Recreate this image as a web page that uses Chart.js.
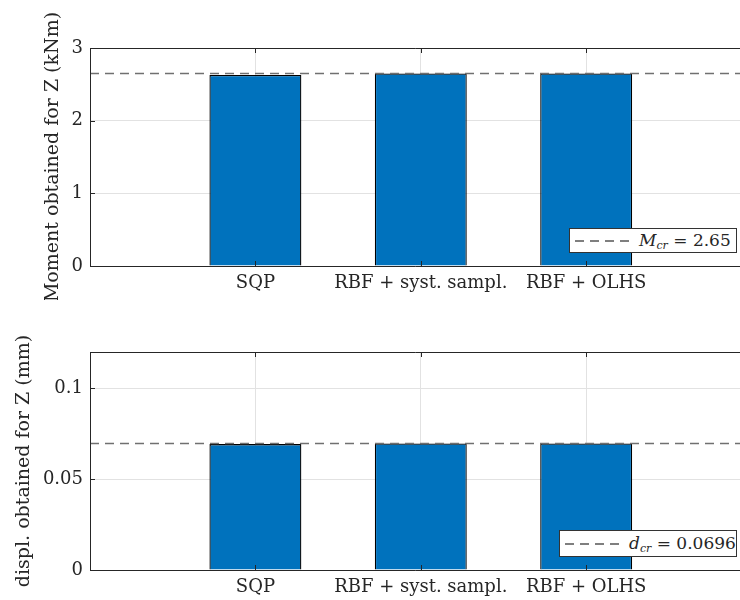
<!DOCTYPE html>
<html>
<head>
<meta charset="utf-8">
<script src="https://cdn.jsdelivr.net/npm/chart.js@4/dist/chart.umd.min.js"></script>
<style>
  body { margin: 0; background: #fff; }
  #wrap { position: relative; width: 740px; height: 600px; }
  canvas { position: absolute; left: 0; }
  #top { top: 0; }
  #bottom { top: 300px; }
  .leg {
    position: absolute; background: #fff; border: 1px solid #333;
    font-family: 'DejaVu Serif', serif; font-size: 17px; color: #262626;
    display: flex; align-items: center; box-sizing: border-box; white-space: nowrap;
  }
  .leg svg { margin: 0 8px 0 5px; }
  .leg i { font-style: italic; }
  .leg sub { font-size: 11px; font-style: italic; vertical-align: -3px; }
</style>
</head>
<body>
<div id="wrap">
  <canvas id="top" width="740" height="300"></canvas>
  <canvas id="bottom" width="740" height="300"></canvas>
  <div class="leg" style="left:569px; top:228px; width:168px; height:25px;">
    <svg width="56" height="4"><line x1="0" y1="2" x2="56" y2="2" stroke="#555" stroke-width="1.3" stroke-dasharray="9,6"/></svg>
    <span><i>M</i><sub>cr</sub> = 2.65</span>
  </div>
  <div class="leg" style="left:559px; top:530px; width:178px; height:27px;">
    <svg width="56" height="4"><line x1="0" y1="2" x2="56" y2="2" stroke="#555" stroke-width="1.3" stroke-dasharray="9,6"/></svg>
    <span><i>d</i><sub>cr</sub> = 0.0696</span>
  </div>
</div>
<script>
// slot 1 is left empty, like in the original figure
const categories = ['', 'SQP', 'RBF + syst. sampl.', 'RBF + OLHS'];
const momentVals = [null, 2.63, 2.65, 2.65];
const displVals = [null, 0.0693, 0.0697, 0.0697];
const Mcr = 2.65;
const dcr = 0.0696;
const momentTicks = [0, 1, 2, 3];
const displTicks = [0, 0.05, 0.1];

const axisCol = '#262626';
const gridCol = '#e2e2e2';
const barCol = '#0072BD';
const font = { family: "'DejaVu Serif', serif", size: 18 };
const xMax = 4.93;

// inward ticks + box, drawn over the bars like matlab does
const boxTicks = {
  id: 'boxTicks',
  afterDatasetsDraw(chart) {
    const { ctx, chartArea: a, scales } = chart;
    ctx.save();
    ctx.strokeStyle = axisCol;
    ctx.lineWidth = 1;
    ctx.beginPath();
    ctx.moveTo(a.left + 0.5, a.top + 0.5);
    ctx.lineTo(a.right, a.top + 0.5);
    ctx.moveTo(a.left + 0.5, a.top);
    ctx.lineTo(a.left + 0.5, a.bottom + 0.5);
    ctx.lineTo(a.right, a.bottom + 0.5);
    scales.x.ticks.forEach(t => {
      const px = Math.round(scales.x.getPixelForValue(t.value)) + 0.5;
      ctx.moveTo(px, a.bottom); ctx.lineTo(px, a.bottom - 5);
      ctx.moveTo(px, a.top); ctx.lineTo(px, a.top + 5);
    });
    scales.y.ticks.forEach(t => {
      const py = Math.round(scales.y.getPixelForValue(t.value)) + 0.5;
      ctx.moveTo(a.left, py); ctx.lineTo(a.left + 5, py);
    });
    ctx.stroke();
    ctx.restore();
  }
};

function makeChart(id, vals, refVal, yTicks, yMax, yTitle, padLeft, yWidth, padTop, xHeight) {
  const pts = vals.map((v, i) => ({ x: i + 1, y: v }));
  return new Chart(document.getElementById(id), {
    type: 'bar',
    data: {
      datasets: [
        {
          type: 'line',
          data: [{ x: 1, y: refVal }, { x: xMax, y: refVal }],
          borderColor: '#707070',
          borderWidth: 1.5,
          borderDash: [9, 6],
          pointRadius: 0,
          order: 0
        },
        {
          data: pts,
          backgroundColor: barCol,
          borderColor: '#000',
          borderWidth: 1.3,
          barPercentage: 0.556,
          categoryPercentage: 1,
          order: 1
        }
      ]
    },
    options: {
      responsive: false,
      animation: false,
      layout: { padding: { left: padLeft, top: padTop, right: 0, bottom: 0 } },
      plugins: { legend: { display: false }, tooltip: { enabled: false } },
      scales: {
        x: {
          type: 'linear',
          min: 1,
          max: xMax,
          offset: false,
          afterBuildTicks: s => { s.ticks = categories.map((c, i) => ({ value: i + 1 })).filter(t => categories[t.value - 1]); },
          afterFit: s => { s.height = xHeight; },
          ticks: {
            callback: v => categories[v - 1],
            color: axisCol,
            font: font,
            padding: 7,
            maxRotation: 0,
            autoSkip: false
          },
          grid: { color: gridCol, drawTicks: false, offset: false },
          border: { display: false }
        },
        y: {
          min: 0,
          max: yMax,
          afterBuildTicks: s => { s.ticks = yTicks.map(v => ({ value: v })); },
          afterFit: s => { s.width = yWidth; },
          ticks: {
            callback: v => String(v),
            color: axisCol,
            font: font,
            padding: 7
          },
          grid: { color: gridCol, drawTicks: false },
          border: { display: false },
          title: {
            display: true,
            text: yTitle,
            color: axisCol,
            font: { family: "'DejaVu Serif', serif", size: 19 },
            padding: 0
          }
        }
      }
    },
    plugins: [boxTicks]
  });
}

makeChart('top', momentVals, Mcr, momentTicks, 3, 'Moment obtained for Z (kNm)', 42, 48, 48, 34);
makeChart('bottom', displVals, dcr, displTicks, 0.12, 'displ. obtained for Z (mm)', 13, 77, 52, 30);
</script>
</body>
</html>
